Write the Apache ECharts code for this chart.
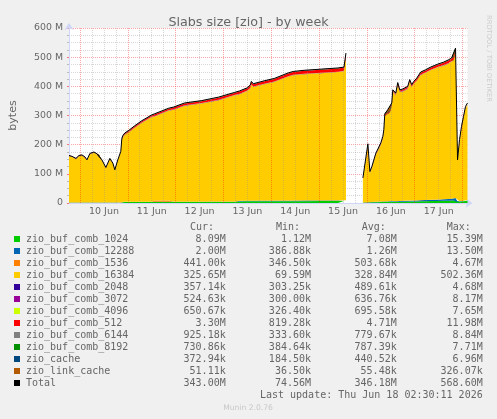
<!DOCTYPE html>
<html><head><meta charset="utf-8">
<script src="https://cdn.jsdelivr.net/npm/echarts@6/dist/echarts.min.js"></script>
<style>html,body{margin:0;padding:0;background:#f0f0f0;}#c{width:497px;height:419px;}</style>
</head><body><div id="c"></div>
<script>
// hours relative to 10 Jun 00:00 (local time)
const hoursFromJun10 = [
  -5.5,-4,-2,-0.5,1,2.5,3.5,5,7,8.5,9.5,11,13,15,16.5,17.5,19,20.5,
  21,21.5,22.5,24.5,27.5,31,36,37.5,44.5,47,52.5,61,69.5,77.5,80,84,85.5,86,87,92.5,97.5,104.5,107,112.5,121,129.5,132.5,133.5,
  137.5,
  142,144.5,145.5,146.5,148.5,151,152,152.5,153,154.5,155.5,156.5,157,158.5,159.5,160.5,162,164.5,165.5,166.5,167.5,169,171,173.5,176,179.5,182.5,185,186.5,187.5,188.5,
  189.5,190.5,191.5,192.5,193.5,194.5
];
// values in millions of bytes
const totalValues = [
  163,160,153,163,165,158,148,170,175,169,166,148,122,153,137,114,148,177,
  220,231,240,249,265,282,302,306,325,329,343,351,363,379,384,395,405,417,409,419,427,446,451,455,459,463,466,514,
  null,
  86,203,108,125,171,206,228,251,306,320,317,343,388,377,413,388,391,400,423,406,417,428,449,457,466,476,483,491,497,503,531,
  148,217,263,297,331,343
];
const comb1024 = [
  1.2,1.2,1.2,1.2,1.2,1.2,1.2,1.2,1.2,1.2,1.2,1.2,1.2,1.2,1.2,1.2,1.2,1.2,
  3,3.2,3.3,3.3,3.4,3.4,3.5,3.5,3.5,3.5,3.6,3.7,3.8,3.9,5.5,5.8,5.8,5.8,5.9,6.0,6.1,6.2,6.3,6.4,6.5,6.6,6.6,7.0,
  null,
  1.5,2,2.2,2.5,3,3.3,3.4,3.5,3.5,3.7,3.8,4.0,4.1,4.3,4.4,4.5,4.7,5.0,5.1,5.2,5.3,5.5,6.0,6.3,6.6,7.0,7.5,8.0,8.5,9.0,9.5,
  3,4,5,6,7,8.09
];
const comb12288 = [
  0.4,0.4,0.4,0.4,0.4,0.4,0.4,0.4,0.4,0.4,0.4,0.4,0.4,0.4,0.4,0.4,0.4,0.4,
  0.4,0.4,0.4,0.4,0.45,0.45,0.45,0.45,0.5,0.5,0.5,0.55,0.6,0.6,1.5,1.6,1.6,1.6,1.6,1.7,1.7,1.8,1.8,1.8,1.9,1.9,1.9,2.0,
  null,
  0.5,0.8,0.9,1.0,1.2,1.4,1.5,1.5,1.6,1.7,1.8,1.9,2.0,2.1,2.2,2.3,2.4,2.6,2.7,2.8,2.9,3.0,3.5,3.8,4.0,4.5,5.0,5.5,6.0,6.5,7.5,
  1.0,1.3,1.5,1.7,1.9,2.0
];
const comb1536 = [
  0.35,0.35,0.35,0.35,0.35,0.35,0.35,0.35,0.35,0.35,0.35,0.35,0.35,0.35,0.35,0.35,0.35,0.35,
  0.35,0.35,0.35,0.35,0.35,0.35,0.35,4.2,4.4,0.4,0.4,0.4,0.4,0.45,0.45,0.45,0.45,0.45,0.45,0.45,0.45,0.45,0.45,0.45,0.45,0.45,0.45,0.45,
  null,
  0.35,0.35,0.35,0.35,0.35,0.4,0.4,0.4,0.4,0.4,0.4,0.4,0.4,0.4,0.4,0.4,0.45,0.45,0.45,0.45,0.45,0.45,0.5,0.5,0.5,0.5,0.5,0.5,0.5,0.5,0.5,
  0.44,0.44,0.44,0.44,0.44,0.44
];
const comb16384 = [
  158.4,155.4,148.4,158.4,160.4,153.4,143.4,165.4,170.4,164.4,161.4,143.4,117.4,148.4,132.4,109.4,143.4,172.4,
  209.8,220.4,229.1,237.9,253.4,270.1,289.6,289.7,307.9,315.7,329.2,336.6,347.9,363.4,365.7,376.1,386.0,398.0,389.8,399.2,406.7,424.9,429.5,432.9,436.2,439.8,442.6,489.1,
  null,
  78.1,193.8,98.5,114.9,159.9,194.1,215.7,238.6,293.3,306.8,303.5,329.0,373.7,362.2,397.8,372.5,374.9,383.1,405.7,388.4,399.0,409.4,429.0,435.9,443.9,452.5,458.0,464.5,469.0,473.5,499.5,
  137.5,204.9,249.5,282.2,314.9,325.65
];
const comb2048 = [
  0.3,0.3,0.3,0.3,0.3,0.3,0.3,0.3,0.3,0.3,0.3,0.3,0.3,0.3,0.3,0.3,0.3,0.3,
  0.45,0.45,0.45,0.45,0.45,0.45,0.45,0.45,0.45,0.45,0.45,0.45,0.45,0.45,0.45,0.45,0.45,0.45,0.45,0.45,0.45,0.45,0.45,0.45,0.45,0.45,0.45,0.45,
  null,
  0.5,0.5,0.5,0.5,0.5,0.5,0.5,0.5,0.5,0.5,0.5,0.5,0.5,0.5,0.5,0.5,0.5,0.5,0.5,0.5,0.5,0.5,0.5,0.5,0.5,0.5,0.5,0.5,0.5,0.5,0.5,
  0.36,0.36,0.36,0.36,0.36,0.36
];
const comb3072 = [
  0.3,0.3,0.3,0.3,0.3,0.3,0.3,0.3,0.3,0.3,0.3,0.3,0.3,0.3,0.3,0.3,0.3,0.3,
  0.6,0.6,0.6,0.6,0.6,0.6,0.6,0.6,0.6,0.6,0.6,0.6,0.6,0.6,0.6,0.6,0.6,0.6,0.6,0.6,0.6,0.6,0.6,0.6,0.6,0.6,0.6,0.6,
  null,
  0.7,0.7,0.7,0.7,0.7,0.7,0.7,0.7,0.7,0.7,0.7,0.7,0.7,0.7,0.7,0.7,0.7,0.7,0.7,0.7,0.7,0.7,0.7,0.7,0.7,0.7,0.7,0.7,0.7,0.7,0.7,
  0.52,0.52,0.52,0.52,0.52,0.52
];
const comb4096 = [
  0.33,0.33,0.33,0.33,0.33,0.33,0.33,0.33,0.33,0.33,0.33,0.33,0.33,0.33,0.33,0.33,0.33,0.33,
  0.6,0.6,0.6,0.6,0.6,0.6,0.6,0.6,0.6,0.6,0.6,0.6,0.6,0.6,0.6,0.6,0.6,0.6,0.6,0.6,0.6,0.6,0.6,0.6,0.6,0.6,0.6,0.6,
  null,
  0.7,0.7,0.7,0.7,0.7,0.7,0.7,0.7,0.7,0.7,0.7,0.7,0.7,0.7,0.7,0.7,0.7,0.7,0.7,0.7,0.7,0.7,0.7,0.7,0.7,0.7,0.7,0.7,0.7,0.7,0.7,
  0.65,0.65,0.65,0.65,0.65,0.65
];
const comb512 = [
  0.8,0.8,0.8,0.8,0.8,0.8,0.8,0.8,0.8,0.8,0.8,0.8,0.8,0.8,0.8,0.8,0.8,0.8,
  3,3.2,3.4,3.6,3.9,4.2,4.6,4.7,5.2,5.4,5.8,6.3,6.8,7.2,7.4,7.6,7.7,7.7,7.8,8.2,8.6,9.2,9.5,10,10.5,10.8,11,11.98,
  null,
  1.5,2,2,2.2,2.5,2.8,3,3,3.2,3.4,3.5,3.7,3.8,4,4.2,4.3,4.5,4.8,5,5.1,5.3,5.6,6,6.5,7,7.5,8,8.5,9,9.5,10,
  2.5,2.8,3.0,3.1,3.2,3.3
];
const comb6144 = [
  0.33,0.33,0.33,0.33,0.33,0.33,0.33,0.33,0.33,0.33,0.33,0.33,0.33,0.33,0.33,0.33,0.33,0.33,
  0.7,0.7,0.7,0.7,0.7,0.7,0.7,0.7,0.7,0.7,0.7,0.7,0.7,0.7,0.7,0.7,0.7,0.7,0.7,0.7,0.7,0.7,0.7,0.7,0.7,0.7,0.7,0.7,
  null,
  0.8,0.8,0.8,0.8,0.8,0.8,0.8,0.8,0.8,0.8,0.8,0.8,0.8,0.8,0.8,0.8,0.8,0.8,0.8,0.8,0.8,0.8,0.8,0.8,0.8,0.8,0.8,0.8,0.8,0.8,0.8,
  0.93,0.93,0.93,0.93,0.93,0.93
];
const comb8192 = [
  0.38,0.38,0.38,0.38,0.38,0.38,0.38,0.38,0.38,0.38,0.38,0.38,0.38,0.38,0.38,0.38,0.38,0.38,
  0.7,0.7,0.7,0.7,0.7,0.7,0.7,0.7,0.7,0.7,0.7,0.7,0.7,0.7,0.7,0.7,0.7,0.7,0.7,0.7,0.7,0.7,0.7,0.7,0.7,0.7,0.7,0.7,
  null,
  0.8,0.8,0.8,0.8,0.8,0.8,0.8,0.8,0.8,0.8,0.8,0.8,0.8,0.8,0.8,0.8,0.8,0.8,0.8,0.8,0.8,0.8,0.8,0.8,0.8,0.8,0.8,0.8,0.8,0.8,0.8,
  0.73,0.73,0.73,0.73,0.73,0.73
];
const zioCache = [
  0.18,0.18,0.18,0.18,0.18,0.18,0.18,0.18,0.18,0.18,0.18,0.18,0.18,0.18,0.18,0.18,0.18,0.18,
  0.4,0.4,0.4,0.4,0.4,0.4,0.4,0.4,0.4,0.4,0.4,0.4,0.4,0.4,0.4,0.4,0.4,0.4,0.4,0.4,0.4,0.4,0.4,0.4,0.4,0.4,0.4,0.4,
  null,
  0.45,0.45,0.45,0.45,0.45,0.45,0.45,0.45,0.45,0.45,0.45,0.45,0.45,0.45,0.45,0.45,0.45,0.45,0.45,0.45,0.45,0.45,0.45,0.45,0.45,0.45,0.45,0.45,0.45,0.45,0.45,
  0.37,0.37,0.37,0.37,0.37,0.37
];
const zioLinkCache = [
  0.04,0.04,0.04,0.04,0.04,0.04,0.04,0.04,0.04,0.04,0.04,0.04,0.04,0.04,0.04,0.04,0.04,0.04,
  0.05,0.05,0.05,0.05,0.05,0.05,0.05,0.05,0.05,0.05,0.05,0.05,0.05,0.05,0.05,0.05,0.05,0.05,0.05,0.05,0.05,0.05,0.05,0.05,0.05,0.05,0.05,0.05,
  null,
  0.06,0.06,0.06,0.06,0.06,0.06,0.06,0.06,0.06,0.06,0.06,0.06,0.06,0.06,0.06,0.06,0.06,0.06,0.06,0.06,0.06,0.06,0.06,0.06,0.06,0.06,0.06,0.06,0.06,0.06,0.06,
  0.05,0.05,0.05,0.05,0.05,0.05
];

const seriesNames = ['zio_buf_comb_1024','zio_buf_comb_12288','zio_buf_comb_1536','zio_buf_comb_16384','zio_buf_comb_2048','zio_buf_comb_3072','zio_buf_comb_4096','zio_buf_comb_512','zio_buf_comb_6144','zio_buf_comb_8192','zio_cache','zio_link_cache'];
const seriesValues = [comb1024, comb12288, comb1536, comb16384, comb2048, comb3072, comb4096, comb512, comb6144, comb8192, zioCache, zioLinkCache];
const seriesColors = ['#00CC00','#0066B3','#FF8000','#FFCC00','#330099','#990099','#CCFF00','#FF0000','#808080','#008F00','#00487D','#B35A00'];
const totalName = 'Total';
const statCur = ['8.09M','2.00M','441.00k','325.65M','357.14k','524.63k','650.67k','3.30M','925.18k','730.86k','372.94k','51.11k','343.00M'];
const statMin = ['1.12M','386.88k','346.50k','69.59M','303.25k','300.00k','326.40k','819.28k','333.60k','384.64k','184.50k','36.50k','74.56M'];
const statAvg = ['7.08M','1.26M','503.68k','328.84M','489.61k','636.76k','695.58k','4.71M','779.67k','787.39k','440.52k','55.48k','346.18M'];
const statMax = ['15.39M','13.50M','4.67M','502.36M','4.68M','8.17M','7.65M','11.98M','8.84M','7.71M','6.96M','326.07k','568.60M'];
const statHeaders = ['Cur:','Min:','Avg:','Max:'];
const lastUpdate = 'Last update: Thu Jun 18 02:30:11 2026';

// vertical grid positions (hours from 10 Jun 00:00)
const dayGridHours = [0,24,48,72,96,120,144,168,192];
const sixHourGridHours = [6,12,18,30,36,42,54,60,66,78,84,90,102,108,114,126,132,138,150,156,162,174,180,186];

const HOUR = 3600e3, DAY = 24*HOUR;
const base = new Date(2026, 5, 10, 0, 0, 0).getTime();
const t = h => base + h*HOUR;

const chart = echarts.init(document.getElementById('c'));
const FONT = 'DejaVu Sans';
const MONO = 'DejaVu Sans Mono';
const TXT = '#666';
const MAJOR = 'rgba(255,0,0,0.35)';
const MINOR = 'rgba(140,140,140,0.35)';

const series = [];
series.push({
  name: 'grid', type: 'line', data: [], silent: true, z: 1,
  markLine: {
    silent: true, symbol: ['none', 'none'], animation: false,
    label: {show: false}, emphasis: {disabled: true},
    lineStyle: {type: [1, 1], width: 1, color: MINOR},
    data: sixHourGridHours.map(h => ({xAxis: t(h), lineStyle: {color: MINOR, type: [1, 1], width: 1}}))
      .concat(dayGridHours.map(h => ({xAxis: t(h), lineStyle: {color: MAJOR, type: [1, 1], width: 1}})))
  }
});
seriesNames.forEach((name, k) => series.push({
  name, type: 'line', stack: 'slabs', symbol: 'none', silent: true,
  color: seriesColors[k],
  lineStyle: {width: 0},
  areaStyle: {color: seriesColors[k], opacity: 1},
  data: hoursFromJun10.map((h, i) => [t(h), seriesValues[k][i]]),
  z: 2
}));
series.push({
  name: totalName, type: 'line', symbol: 'none', silent: true,
  color: '#000', lineStyle: {width: 1, color: '#000'},
  data: hoursFromJun10.map((h, i) => [t(h), totalValues[i]]),
  z: 5
});

// legend / stats table as text
const graphic = [];
const rowY0 = 239.3, rowH = 12;
const cols = [225.7, 311, 396.7, 482.7];
const headX = [190, 276, 361.7, 446.7];
const monoFont = '10px "' + MONO + '"';
statHeaders.forEach((s, j) => graphic.push({type:'text', x: headX[j], y: rowY0 - rowH, style:{text: s, fill: TXT, font: monoFont, textAlign:'left', textVerticalAlign:'middle'}}));
const allNames = seriesNames.concat([totalName]);
const allColors = seriesColors.concat(['#000000']);
allNames.forEach((n, i) => {
  const y = rowY0 + i*rowH;
  graphic.push({type:'rect', shape:{x:14, y: Math.round(y) - 3, width:6, height:6}, style:{fill: allColors[i]}});
  graphic.push({type:'text', x: 26, y, style:{text: n, fill: TXT, font: monoFont, textAlign:'left', textVerticalAlign:'middle'}});
  [statCur, statMin, statAvg, statMax].forEach((arr, j) => {
    graphic.push({type:'text', x: cols[j], y, style:{text: arr[i], fill: TXT, font: monoFont, textAlign:'right', textVerticalAlign:'middle'}});
  });
});
graphic.push({type:'text', x: 482.7, y: rowY0 + 13*rowH, style:{text: lastUpdate, fill: TXT, font: monoFont, textAlign:'right', textVerticalAlign:'middle'}});
graphic.push({type:'text', x: 248, y: 408.3, style:{text: 'Munin 2.0.76', fill: '#c8c8c8', font: '7.6px "' + FONT + '"', textAlign:'center', textVerticalAlign:'middle'}});
graphic.push({type:'text', x: 488.5, y: 15, rotation: -Math.PI/2, style:{text: 'RRDTOOL / TOBI OETIKER', fill: '#cccccc', font: '6.75px "' + FONT + '"', textAlign:'left', textVerticalAlign:'middle'}});

chart.setOption({
  animation: false,
  backgroundColor: '#f0f0f0',
  title: {text: 'Slabs size [zio] - by week', left: 'center', top: 11.5,
    textStyle: {fontFamily: FONT, fontSize: 12.7, fontWeight: 'normal', color: TXT}},
  grid: {left: 67.5, right: 29.5, top: 28, bottom: 216, show: true, backgroundColor: '#ffffff', borderWidth: 0, containLabel: false},
  xAxis: {
    type: 'time', min: t(-5.5), max: t(194.5),
    minInterval: DAY, maxInterval: DAY,
    axisLine: {show: true, lineStyle: {color: '#CFD6F8', width: 1}, symbol: ['none', 'arrow'], symbolSize: [7, 7], symbolOffset: [0, 5]},
    axisTick: {show: false},
    minorTick: {show: false},
    axisLabel: {
      color: TXT, fontFamily: FONT, fontSize: 9.5, margin: 4, showMinLabel: false, showMaxLabel: false, hideOverlap: false,
      formatter: v => { const d = new Date(v); if (d.getDate() === 18 || d.getHours() !== 0) return ''; return '{a|' + d.getDate() + ' Jun}'; },
      rich: {a: {color: TXT, fontFamily: FONT, fontSize: 9.5, padding: [0, 0, 0, 48]}}
    },
    splitLine: {show: false},
    minorSplitLine: {show: false}
  },
  yAxis: {
    type: 'value', min: 0, max: 600, interval: 100,
    name: 'bytes', nameLocation: 'middle', nameGap: 50, nameRotate: 90,
    nameTextStyle: {color: TXT, fontFamily: FONT, fontSize: 11},
    axisLine: {show: true, lineStyle: {color: '#CFD6F8', width: 1}, symbol: ['none', 'arrow'], symbolSize: [7, 7], symbolOffset: [0, 5]},
    axisTick: {show: true, length: 2, lineStyle: {color: 'rgba(255,0,0,0.5)'}},
    minorTick: {show: true, splitNumber: 4, length: 2, lineStyle: {color: '#bbb'}},
    axisLabel: {color: TXT, fontFamily: FONT, fontSize: 9.4, margin: 6, formatter: v => v === 0 ? '0' : v + ' M'},
    splitLine: {show: true, lineStyle: {color: MAJOR, type: [1, 1], width: 1}},
    minorSplitLine: {show: true, lineStyle: {color: MINOR, type: [1, 1], width: 1}}
  },
  series,
  graphic
});
</script></body></html>
